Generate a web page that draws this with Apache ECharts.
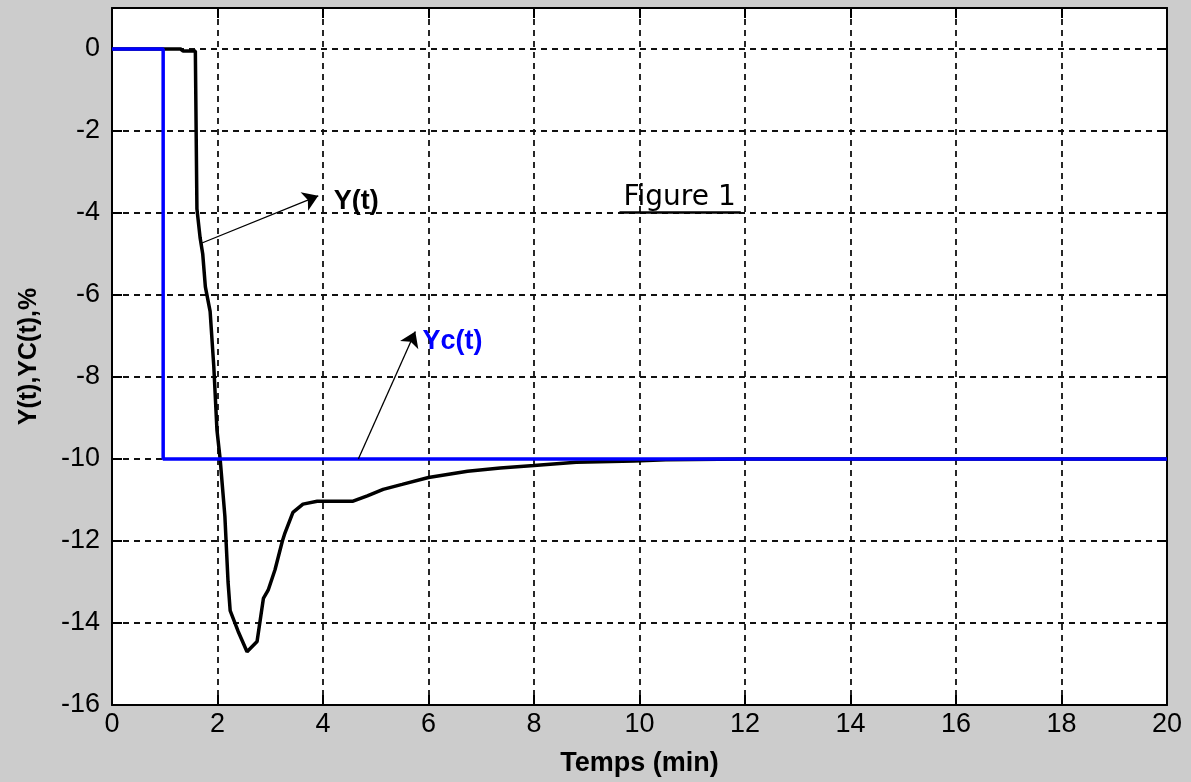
<!DOCTYPE html>
<html>
<head>
<meta charset="utf-8">
<title>Y(t), YC(t)</title>
<script src="https://cdn.jsdelivr.net/npm/echarts@6/dist/echarts.min.js"></script>
<style>
  html, body { margin: 0; padding: 0; background: #cccccc; }
  #chart { width: 1191px; height: 782px; }
</style>
</head>
<body>
<div id="chart"></div>
<script>
// Time axis ticks (min) and response axis ticks (%)
const xTicks = [0, 2, 4, 6, 8, 10, 12, 14, 16, 18, 20];
const yTicks = [-16, -14, -12, -10, -8, -6, -4, -2, 0];

// Setpoint Yc(t): step from 0 to -10 %
const ycPoints = [[0, 0], [0.97, 0], [0.97, -10], [20, -10]];

// Process output Y(t)
const yPoints = [
  [0, 0], [1.3, 0], [1.35, -0.05], [1.58, -0.05], [1.61, -3.9], [1.67, -4.6],
  [1.72, -5.0], [1.77, -5.8], [1.86, -6.4], [1.93, -7.75], [1.99, -9.3],
  [2.05, -10.0], [2.14, -11.4], [2.2, -13.0], [2.24, -13.7], [2.39, -14.2],
  [2.56, -14.7], [2.75, -14.45], [2.87, -13.4], [2.96, -13.2], [3.09, -12.7],
  [3.23, -12.0], [3.28, -11.8], [3.43, -11.3], [3.62, -11.1], [3.89, -11.03],
  [4.57, -11.03], [4.84, -10.9], [5.14, -10.74], [5.5, -10.62], [6.0, -10.45],
  [6.74, -10.3], [7.36, -10.22], [8.0, -10.16], [8.8, -10.08], [9.9, -10.05],
  [10.5, -10.02], [12, -10.0], [20, -10.0]
];

// Annotation anchors in data coordinates
const yArrow = [[1.67, -4.75], [3.91, -3.58]];
const ycArrow = [[4.67, -10.0], [5.75, -6.89]];
const yLabelAt = [4.12, -3.72];
const ycLabelAt = [5.8, -7.14];
const figLabelAt = [10.76, -3.62];
const figUnderline = [[9.62, -3.97], [11.92, -3.97]];

const FONT = '"Liberation Sans", Arial, sans-serif';
const gridDash = { color: '#111', width: 1.8, type: [6, 5] };
const tickStyle = { inside: true, length: 10, lineStyle: { color: '#000', width: 2 } };

const chart = echarts.init(document.getElementById('chart'), null, { renderer: 'canvas' });

const option = {
  animation: false,
  backgroundColor: '#cccccc',
  grid: {
    left: 112, right: 24, top: 8, bottom: 76,
    show: true, backgroundColor: '#ffffff', borderWidth: 0
  },
  xAxis: [
    {
      type: 'value', min: xTicks[0], max: xTicks[xTicks.length - 1], interval: 2,
      name: 'Temps (min)', nameLocation: 'middle', nameGap: 45,
      nameTextStyle: { fontFamily: FONT, fontSize: 27, fontWeight: 'bold', color: '#000' },
      axisLine: { onZero: false, lineStyle: { color: '#000', width: 2 } },
      axisTick: tickStyle,
      axisLabel: { fontFamily: FONT, fontSize: 27, color: '#000', margin: 6 },
      splitLine: { show: true, lineStyle: gridDash }
    },
    {
      type: 'value', position: 'top', min: xTicks[0], max: xTicks[xTicks.length - 1], interval: 2,
      axisLine: { onZero: false, lineStyle: { color: '#000', width: 2 } },
      axisTick: tickStyle,
      axisLabel: { show: false },
      splitLine: { show: false }
    }
  ],
  yAxis: [
    {
      type: 'value', min: yTicks[0], max: 1, interval: 2,
      name: 'Y(t),YC(t),%', nameLocation: 'middle', nameGap: 70,
      nameTextStyle: { fontFamily: FONT, fontSize: 25, fontWeight: 'bold', color: '#000' },
      axisLine: { onZero: false, lineStyle: { color: '#000', width: 2 } },
      axisTick: tickStyle,
      axisLabel: {
        fontFamily: FONT, fontSize: 27, color: '#000', margin: 12,
        formatter: v => (yTicks.indexOf(v) >= 0 ? String(v) : '')
      },
      splitLine: { show: true, lineStyle: gridDash }
    },
    {
      type: 'value', position: 'right', min: yTicks[0], max: 1, interval: 2,
      axisLine: { show: true, onZero: false, lineStyle: { color: '#000', width: 2 } },
      axisTick: Object.assign({ show: true }, tickStyle),
      axisLabel: { show: false },
      splitLine: { show: false }
    }
  ],
  series: [
    {
      name: 'Y(t)', type: 'line', data: yPoints, showSymbol: false, z: 3,
      lineStyle: { color: '#000', width: 3.5 },
      markLine: {
        silent: true, animation: false,
        symbol: ['none', 'arrow'], symbolSize: 15,
        label: { show: false },
        lineStyle: { color: '#000', width: 1.3, type: 'solid' },
        data: [
          [{ coord: yArrow[0] }, { coord: yArrow[1] }],
          [{ coord: ycArrow[0] }, { coord: ycArrow[1] }],
          [{ coord: figUnderline[0], symbol: 'none' },
           { coord: figUnderline[1], symbol: 'none', lineStyle: { width: 2.5 } }]
        ]
      },
      markPoint: {
        silent: true, animation: false,
        symbol: 'circle', symbolSize: 1,
        itemStyle: { color: 'rgba(0,0,0,0)' },
        data: [
          { coord: yLabelAt, label: { show: true, position: 'right', distance: 4, formatter: 'Y(t)',
            fontFamily: FONT, fontSize: 27, fontWeight: 'bold', color: '#000' } },
          { coord: ycLabelAt, label: { show: true, position: 'right', distance: 4, formatter: 'Yc(t)',
            fontFamily: FONT, fontSize: 27, fontWeight: 'bold', color: '#0000ff' } },
          { coord: figLabelAt, label: { show: true, position: 'inside', formatter: 'Figure 1',
            fontFamily: '"Comic Sans MS", "DejaVu Sans", sans-serif', fontSize: 28, color: '#000' } }
        ]
      }
    },
    {
      name: 'Yc(t)', type: 'line', data: ycPoints, showSymbol: false, z: 4,
      lineStyle: { color: '#0000ff', width: 3.5 }
    }
  ]
};

chart.setOption(option);
</script>
</body>
</html>
